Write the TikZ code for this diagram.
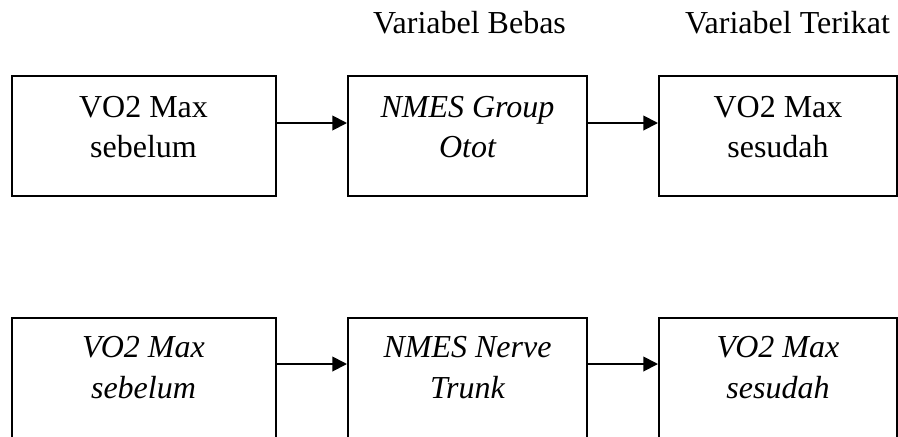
\documentclass[tikz,border=0pt]{standalone}
\usepackage{fontspec}
\setmainfont{Liberation Serif}
\usetikzlibrary{arrows.meta}
\begin{document}
\begin{tikzpicture}[x=0.75pt,y=-0.75pt,
  box/.style={draw,line width=1.5pt,inner sep=0pt,anchor=north},
  txt/.style={anchor=base,inner sep=0pt,font=\fontsize{24}{30}\selectfont},
  arr/.style={line width=1.4pt,-{Triangle[length=11pt,width=11pt]}}
]
\useasboundingbox (0,0) rectangle (898,436);
\clip (0,0) rectangle (898,436);
% headers
\node[txt] (h1) at (469.5,33) {Variabel Bebas};
\node[txt] (h2) at (787.5,33) {Variabel Terikat};
% top row
\node[box,minimum width=198pt,minimum height=90pt] (a1) at (143.5,75) {};
\node[box,minimum width=179.25pt,minimum height=90pt] (a2) at (467.5,75) {};
\node[box,minimum width=178.5pt,minimum height=90pt] (a3) at (778,75) {};
\node[txt] (a1t1) at (143.5,117) {VO2 Max};
\node[txt] (a1t2) at (143.5,157) {sebelum};
\node[txt] (a2t1) at (467.5,117) {\itshape NMES Group};
\node[txt] (a2t2) at (467.5,157) {\itshape Otot};
\node[txt] (a3t1) at (778,117) {VO2 Max};
\node[txt] (a3t2) at (778,157) {sesudah};
\draw[arr] ([yshift=-36pt]a1.north east) -- ([yshift=-36pt]a2.north west);
\draw[arr] ([yshift=-36pt]a2.north east) -- ([yshift=-36pt]a3.north west);
% bottom row (cut off by the lower edge)
\node[box,minimum width=198pt,minimum height=100pt] (b1) at (143.5,317) {};
\node[box,minimum width=179.25pt,minimum height=100pt] (b2) at (467.5,317) {};
\node[box,minimum width=178.5pt,minimum height=100pt] (b3) at (778,317) {};
\node[txt] (b1t1) at (143.5,357) {\itshape VO2 Max};
\node[txt] (b1t2) at (143.5,398) {\itshape sebelum};
\node[txt] (b2t1) at (467.5,357) {\itshape NMES Nerve};
\node[txt] (b2t2) at (467.5,398) {\itshape Trunk};
\node[txt] (b3t1) at (778,357) {\itshape VO2 Max};
\node[txt] (b3t2) at (778,398) {\itshape sesudah};
\draw[arr] ([yshift=-35.25pt]b1.north east) -- ([yshift=-35.25pt]b2.north west);
\draw[arr] ([yshift=-35.25pt]b2.north east) -- ([yshift=-35.25pt]b3.north west);
\end{tikzpicture}
\end{document}
